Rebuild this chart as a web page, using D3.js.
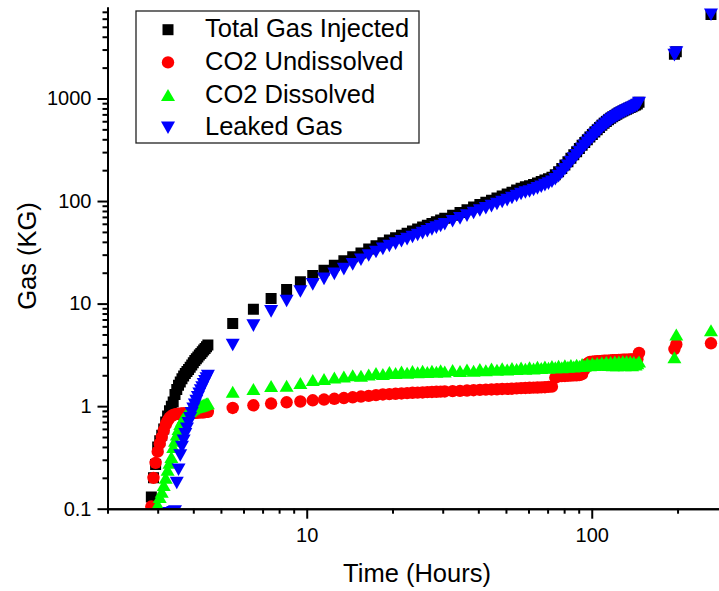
<!DOCTYPE html>
<html>
<head>
<meta charset="utf-8">
<script src="https://cdn.jsdelivr.net/npm/d3@7"></script>
<style>
  html, body { margin: 0; padding: 0; background: #fff; }
  svg { display: block; }
  text { font-family: "Liberation Sans", Arial, sans-serif; fill: #000; }
</style>
</head>
<body>
<svg id="chart" width="719" height="591"></svg>
<script>
// Elapsed time (hours): fine steps during start-up, hourly, then every 2 h, then three late samples
const hours = [
  2.85, 2.9, 2.95, 3, 3.05, 3.1, 3.15, 3.2, 3.25, 3.3, 3.35, 3.4, 3.45, 3.5, 3.55, 3.6, 3.65,
  3.7, 3.75, 3.8, 3.85, 3.9, 3.95, 4, 4.05, 4.1, 4.15, 4.2, 4.25, 4.3, 4.35, 4.4, 4.45, 4.5,
  5.5, 6.5, 7.5, 8.5, 9.5, 10.5, 11.5, 12.5, 13.5, 14.5, 15.5, 16.5, 17.5, 18.5, 19.5, 20.5,
  21.5, 22.5, 23.5, 24.5, 25.5, 26.5, 27.5, 28.5, 29.5, 30.5,
  32.5, 34.5, 36.5, 38.5, 40.5, 42.5, 44.5, 46.5, 48.5, 50.5, 52.5, 54.5, 56.5, 58.5, 60.5,
  62.5, 64.5, 66.5, 68.5, 70.5, 72.5, 74.5, 76.5, 78.5, 80.5, 82.5, 84.5, 86.5, 88.5, 90.5,
  92.5, 94.5, 96.5, 98.5, 100.5, 102.5, 104.5, 106.5, 108.5, 110.5, 112.5, 114.5, 116.5,
  118.5, 120.5, 122.5, 124.5, 126.5, 128.5, 130.5, 132.5, 134.5, 136.5, 138.5, 140.5, 142.5,
  144.5, 146.5,
  195, 198, 262
];

// Gas masses (kg); null = no sample
const totalGasInjected = [
  0.13, 0.2, 0.27, 0.4, 0.46, 0.52, 0.6, 0.7, 0.8, 0.9, 1.0, 1.1, 1.3, 1.45, 1.6, 1.72, 1.85,
  1.97, 2.08, 2.18, 2.28, 2.4, 2.52, 2.65, 2.78, 2.9, 3.02, 3.15, 3.27, 3.4, 3.52, 3.65, 3.8, 3.95,
  6.4, 8.8, 11.2, 13.7, 16.3, 18.8, 21.1, 23.7, 26.1, 28.7, 31.2, 34, 36.7, 39.3, 41.6, 43.9,
  46.3, 48.6, 51, 53.4, 55.7, 58.1, 60.5, 62.9, 65.3, 67.8,
  72.7, 77.5, 82.4, 87.4, 92.3, 97.3, 102, 107, 112, 117, 122, 128, 133, 138, 141,
  145, 150, 155, 160, 165, 171, 180, 193, 208, 224, 242, 262, 282, 303, 326,
  350, 373, 397, 421, 446, 472, 497, 522, 548, 573, 597, 621, 643,
  664, 684, 703, 721, 738, 755, 771, 787, 803, 818, 833, 848, 865,
  885, 920,
  2700, 2850, 6600
];

const co2Undissolved = [
  0.105, 0.2, 0.28, 0.36, 0.43, 0.5, 0.58, 0.66, 0.72, 0.77, 0.8, 0.82, 0.83, 0.84, 0.84, 0.845, 0.85,
  0.85, 0.85, 0.855, 0.855, 0.86, 0.86, 0.86, 0.86, 0.865, 0.865, 0.87, 0.87, 0.87, 0.87, 0.875, 0.88, 0.88,
  0.96, 1.02, 1.06, 1.09, 1.11, 1.14, 1.16, 1.18, 1.2, 1.22, 1.24, 1.26, 1.28, 1.3, 1.31, 1.32,
  1.33, 1.34, 1.35, 1.355, 1.36, 1.37, 1.375, 1.38, 1.385, 1.39,
  1.4, 1.41, 1.42, 1.43, 1.44, 1.45, 1.455, 1.46, 1.47, 1.475, 1.48, 1.49, 1.5, 1.505, 1.51,
  1.515, 1.52, 1.525, 1.53, 1.54, 1.55, 1.9, 1.95, 1.96, 1.97, 1.98, 1.99, 2.0, 2.0, 2.01,
  2.05, 2.3, 2.6, 2.7, 2.72, 2.73, 2.74, 2.75, 2.76, 2.77, 2.78, 2.78, 2.79,
  2.8, 2.8, 2.81, 2.82, 2.82, 2.83, 2.83, 2.84, 2.84, 2.85, 2.85, 2.86, 2.86,
  2.87, 3.3,
  3.6, 4.0, 4.1
];

const co2Dissolved = [
  null, null, null, 0.11, 0.13, 0.146, 0.17, 0.2, 0.24, 0.28, 0.32, 0.4, 0.46, 0.53, 0.6, 0.67, 0.72,
  0.77, 0.81, 0.85, 0.88, 0.9, 0.93, 0.95, 0.97, 0.98, 0.99, 1.0, 1.01, 1.02, 1.03, 1.05, 1.06, 1.07,
  1.38, 1.47, 1.57, 1.58, 1.68, 1.8, 1.84, 1.9, 1.95, 2.0, 1.98, 2.04, 2.1, 2.06, 2.15, 2.1,
  2.18, 2.12, 2.2, 2.14, 2.22, 2.15, 2.22, 2.17, 2.24, 2.18,
  2.25, 2.2, 2.28, 2.22, 2.3, 2.24, 2.33, 2.26, 2.34, 2.28, 2.36, 2.3, 2.38, 2.32, 2.4,
  2.33, 2.42, 2.35, 2.44, 2.37, 2.46, 2.39, 2.48, 2.4, 2.5, 2.42, 2.52, 2.44, 2.54, 2.46,
  2.58, 2.48, 2.6, 2.5, 2.62, 2.52, 2.64, 2.54, 2.66, 2.55, 2.7, 2.52, 2.7,
  2.5, 2.72, 2.5, 2.72, 2.52, 2.74, 2.5, 2.74, 2.52, 2.72, 2.5, 2.7, 2.55,
  2.62, 2.72,
  3.0, 5.0, 5.5
];

const leakedGas = [
  null, null, null, null, null, null, null, null, 0.088, 0.09, 0.09, 0.092, 0.094, 0.178, 0.24, 0.33, 0.4,
  0.46, 0.53, 0.6, 0.68, 0.76, 0.85, 0.94, 1.03, 1.12, 1.22, 1.32, 1.42, 1.52, 1.63, 1.75, 1.86, 1.97,
  3.95, 6.1, 8.4, 10.6, 13.1, 15.4, 17.4, 19.5, 21.7, 24.1, 26.8, 29.4, 31.9, 34.2, 36.4, 38.4,
  40.5, 42.5, 44.6, 46.7, 48.7, 50.8, 52.9, 55.0, 57.1, 59.3,
  63.6, 67.8, 72.1, 76.5, 80.8, 85.1, 89.3, 93.6, 98, 102, 107, 112, 117, 121, 124,
  128, 133, 138, 143, 148, 154, 163, 175, 189, 204, 221, 240, 259, 279, 301,
  324, 346, 369, 393, 417, 442, 467, 492, 518, 543, 568, 592, 615,
  637, 657, 676, 695, 713, 730, 747, 763, 779, 795, 810, 825, 842,
  862, 905,
  2650, 2800, 6550
];

const seriesNames = ["Total Gas Injected", "CO2 Undissolved", "CO2 Dissolved", "Leaked Gas"];
const xTickLabels = [10, 100];
const yTickLabels = [0.1, 1, 10, 100, 1000];
const xAxisTitle = "Time (Hours)";
const yAxisTitle = "Gas (KG)";

// ---- layout ----
const svg = d3.select("#chart");
const plot = { left: 107.5, right: 719.2, top: 7, bottom: 508.7 };

const x = d3.scaleLog().domain([2, 280]).range([plot.left, plot.right]);
const y = d3.scaleLog().domain([0.1, 7800]).range([plot.bottom, plot.top]);

// marker shapes (bounding-box centred)
const shapes = {
  square: s => `M${-5.5},${-5.5}h11v11h-11Z`,
  circle: s => d3.symbol(d3.symbolCircle, Math.PI * 6.2 * 6.2)(),
  up: s => `M0,-6L7,6L-7,6Z`,
  down: s => `M0,6.3L7,-6.3L-7,-6.3Z`
};

const series = [
  { name: seriesNames[0], values: totalGasInjected, color: "#000000", shape: "square" },
  { name: seriesNames[1], values: co2Undissolved, color: "#ff0000", shape: "circle" },
  { name: seriesNames[2], values: co2Dissolved, color: "#00ff00", shape: "up" },
  { name: seriesNames[3], values: leakedGas, color: "#0000ff", shape: "down" }
];

svg.append("rect").attr("width", 719).attr("height", 591).attr("fill", "#fff");

svg.append("clipPath").attr("id", "plot-clip")
  .append("rect")
  .attr("x", plot.left).attr("y", plot.top)
  .attr("width", plot.right - plot.left + 20)
  .attr("height", plot.bottom - plot.top);

const marks = svg.append("g").attr("clip-path", "url(#plot-clip)");

series.forEach(s => {
  const pts = hours.map((h, i) => ({ h, v: s.values[i] })).filter(d => d.v != null);
  marks.append("g")
    .selectAll("path")
    .data(pts)
    .join("path")
    .attr("transform", d => `translate(${x(d.h)},${y(d.v)})`)
    .attr("d", shapes[s.shape]())
    .attr("fill", s.color);
});

// ---- axes ----
const decadesX = [1, 10, 100];
const xMinor = [];
decadesX.forEach(d => { for (let k = 2; k <= 9; k++) { const v = k * d; if (v >= 2 && v <= 280) xMinor.push(v); } });
const decadesY = [0.1, 1, 10, 100, 1000];
const yMinor = [];
decadesY.forEach(d => { for (let k = 2; k <= 9; k++) { const v = k * d; if (v <= 7800) yMinor.push(+v.toPrecision(3)); } });

function styleAxis(g) {
  g.selectAll("path.domain").attr("stroke", "#000").attr("stroke-width", 2);
  g.selectAll(".tick line").attr("stroke", "#000").attr("stroke-width", 2);
  g.selectAll(".tick text")
    .attr("font-family", "'Liberation Sans', Arial, sans-serif")
    .attr("font-size", 20).attr("fill", "#000");
  g.attr("font-family", null).attr("font-size", null);
}

// x axis: minor ticks then labelled majors
svg.append("g")
  .attr("transform", `translate(0,${plot.bottom})`)
  .call(d3.axisBottom(x).tickValues(xMinor).tickSize(5).tickSizeOuter(0).tickFormat(""))
  .call(styleAxis);
svg.append("g")
  .attr("transform", `translate(0,${plot.bottom})`)
  .call(d3.axisBottom(x).tickValues(xTickLabels).tickSize(10).tickSizeOuter(0).tickPadding(9).tickFormat(d3.format("d")))
  .call(styleAxis);

// y axis
svg.append("g")
  .attr("transform", `translate(${plot.left},0)`)
  .call(d3.axisLeft(y).tickValues(yMinor).tickSize(5).tickSizeOuter(0).tickFormat(""))
  .call(styleAxis);
svg.append("g")
  .attr("transform", `translate(${plot.left},0)`)
  .call(d3.axisLeft(y).tickValues(yTickLabels).tickSize(10).tickSizeOuter(0).tickPadding(6).tickFormat(d => String(d)))
  .call(styleAxis);

// axis titles
svg.append("text")
  .attr("x", 417).attr("y", 582)
  .attr("text-anchor", "middle")
  .attr("font-size", 25.5)
  .text(xAxisTitle);
svg.append("text")
  .attr("transform", "translate(36,256) rotate(-90)")
  .attr("text-anchor", "middle")
  .attr("font-size", 25.5)
  .text(yAxisTitle);

// ---- legend ----
const legend = svg.append("g");
legend.append("rect")
  .attr("x", 136).attr("y", 11).attr("width", 283).attr("height", 132)
  .attr("fill", "#fff").attr("stroke", "#222").attr("stroke-width", 1.3);
series.forEach((s, i) => {
  const cy = 29.7 + i * 32.7;
  legend.append("path")
    .attr("transform", `translate(168,${cy})`)
    .attr("d", shapes[s.shape]())
    .attr("fill", s.color);
  legend.append("text")
    .attr("x", 205).attr("y", cy + 7.5)
    .attr("font-size", 25.5)
    .text(s.name);
});
</script>
</body>
</html>
